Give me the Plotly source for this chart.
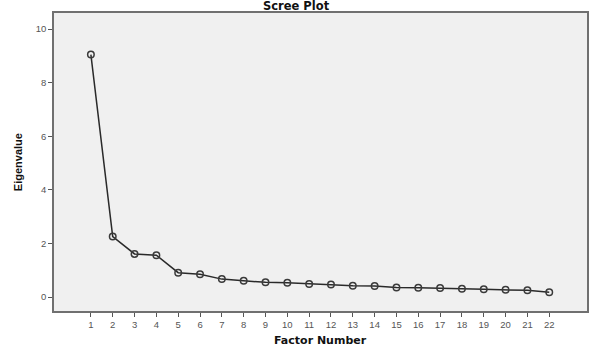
import plotly.graph_objects as go

factors = list(range(1, 23))
eigenvalues = [9.05, 2.26, 1.61, 1.56, 0.91, 0.85, 0.67, 0.61, 0.55, 0.53, 0.49,
               0.47, 0.42, 0.41, 0.36, 0.35, 0.34, 0.31, 0.29, 0.27, 0.25, 0.18]
y_ticks = [0, 2, 4, 6, 8, 10]

fig = go.Figure()
fig.add_trace(go.Scatter(
    x=factors, y=eigenvalues, mode="lines+markers",
    line=dict(color="#2a2a2a", width=1.5),
    marker=dict(symbol="circle-open", size=6.5, color="#3a3a3a", line=dict(width=1.5)),
    showlegend=False,
))

L, R, T, B = 54, 11, 13, 48
pw = 600 - L - R
ph = 359 - T - B

fig.update_layout(
    width=600, height=359,
    margin=dict(l=L, r=R, t=T, b=B),
    paper_bgcolor="white", plot_bgcolor="#f0f0f0",
    font=dict(family="Liberation Sans, Arial", size=9, color="#444"),
    xaxis=dict(range=[-0.69, 23.73], tickmode="array", tickvals=factors,
               ticks="outside", ticklen=4, tickcolor="#555", tickwidth=1,
               showgrid=False, zeroline=False,
               showline=True, linecolor="#707070", linewidth=1.5, mirror=True,
               tickfont=dict(size=9.5, color="#555")),
    yaxis=dict(range=[-0.52, 10.6], tickmode="array", tickvals=y_ticks,
               ticks="outside", ticklen=4, tickcolor="#555", tickwidth=1,
               showgrid=False, zeroline=False,
               showline=True, linecolor="#707070", linewidth=1.5, mirror=True,
               tickfont=dict(size=9.5, color="#555")),
    annotations=[
        dict(text="<b>Scree Plot</b>", x=(297 - L) / pw, y=1 + (T - 6.5) / ph,
             xref="paper", yref="paper", xanchor="center", yanchor="middle",
             showarrow=False, font=dict(family="DejaVu Sans", size=11.5, color="#111")),
        dict(text="<b>Factor Number</b>", x=(322 - L) / pw, y=-(340 - (359 - B)) / ph,
             xref="paper", yref="paper", xanchor="center", yanchor="middle",
             showarrow=False, font=dict(family="DejaVu Sans", size=11, color="#111")),
        dict(text="<b>Eigenvalue</b>", x=-(L - 18) / pw, y=1 - (162 - T) / ph,
             xref="paper", yref="paper", xanchor="center", yanchor="middle",
             textangle=-90, showarrow=False,
             font=dict(family="Liberation Sans Narrow, Liberation Sans", size=11, color="#111")),
    ],
)

fig.write_html("out.html")
